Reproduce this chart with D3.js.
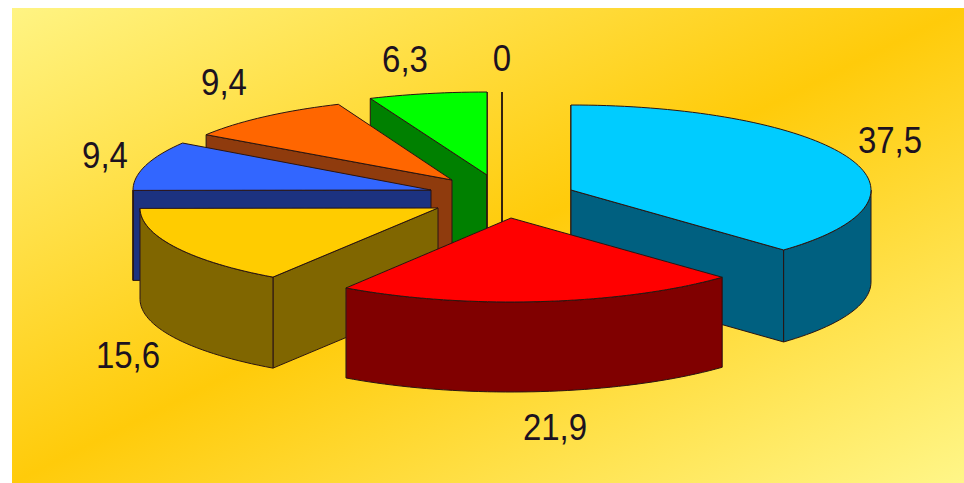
<!DOCTYPE html>
<html>
<head>
<meta charset="utf-8">
<script src="https://cdn.jsdelivr.net/npm/d3@7"></script>
<style>
  html, body { margin: 0; padding: 0; background: #fff; }
  svg { display: block; }
  text { font-family: "Liberation Sans", Arial, sans-serif; fill: #1c1220; }
</style>
</head>
<body>
<div id="chart"></div>
<script>
// values run clockwise from twelve o'clock
var values = [37.5, 21.9, 15.6, 9.4, 9.4, 6.3, 0];
var valueLabels = ['37,5', '21,9', '15,6', '9,4', '9,4', '6,3', '0'];
var topColors = ['#00ccff', '#ff0000', '#ffcc00', '#3366ff', '#ff6600', '#00ff00', '#cc6600'];
var sideColors = ['#006080', '#800000', '#806600', '#1a3380', '#8f3a08', '#008000', '#663300'];

// exploded slices: apex and radii of each one on the page
var sliceCx = [571, 511, 438, 431, 452, 487, 502];
var sliceCy = [190, 218, 208, 190, 180, 175, 175];
var sliceRx = [300, 298, 298, 298, 295, 303, 300];
var sliceRy = [85, 84, 83, 85, 82, 83, 83];
var sliceDepth = [92, 90, 91, 90, 90, 90, 90];
var labelX = [890, 555, 128, 105, 224, 405, 502];
var labelY = [153, 440, 368, 168, 95, 72, 71];

// back slices first so the front ones cover them
var drawOrder = [6, 5, 4, 3, 2, 0, 1];

var width = 964, height = 483;
var frame = {x: 12, y: 8, width: 952, height: 475};

var svg = d3.select('#chart').append('svg')
  .attr('width', width)
  .attr('height', height);

// background, pale in two corners and orange across the other diagonal
var defs = svg.append('defs');
var len = Math.sqrt(frame.width * frame.width + frame.height * frame.height);
var dirX = frame.height / len, dirY = frame.width / len;
var reach = (frame.width / 2) * dirX + (frame.height / 2) * dirY;
var midX = frame.x + frame.width / 2, midY = frame.y + frame.height / 2;
var grad = defs.append('linearGradient')
  .attr('id', 'bg')
  .attr('gradientUnits', 'userSpaceOnUse')
  .attr('x1', midX - dirX * reach).attr('y1', midY - dirY * reach)
  .attr('x2', midX + dirX * reach).attr('y2', midY + dirY * reach);
grad.append('stop').attr('offset', '0').attr('stop-color', '#fff483');
grad.append('stop').attr('offset', '0.5').attr('stop-color', '#ffcb0a');
grad.append('stop').attr('offset', '1').attr('stop-color', '#fff688');

defs.append('filter').attr('id', 'soft')
  .append('feGaussianBlur').attr('stdDeviation', 0.35);

svg.append('rect')
  .attr('x', frame.x).attr('y', frame.y)
  .attr('width', frame.width).attr('height', frame.height)
  .attr('fill', 'url(#bg)');

var arcs = d3.pie().sort(null)(values);
var line = d3.line();
var chart = svg.append('g').attr('filter', 'url(#soft)');

function sampleAngles(a0, a1) {
  var n = Math.max(1, Math.ceil((a1 - a0) / 0.03));
  return d3.range(n + 1).map(function(i) { return a0 + (a1 - a0) * i / n; });
}

drawOrder.forEach(function(i) {
  var arc = arcs[i];
  var x = d3.scaleLinear().domain([-1, 1]).range([sliceCx[i] - sliceRx[i], sliceCx[i] + sliceRx[i]]);
  var y = d3.scaleLinear().domain([-1, 1]).range([sliceCy[i] - sliceRy[i], sliceCy[i] + sliceRy[i]]);
  var depth = sliceDepth[i];
  var apex = [x(0), y(0)];

  function rim(a) { return [x(Math.sin(a)), y(-Math.cos(a))]; }
  function drop(p) { return [p[0], p[1] + depth]; }

  function cutFace(a) {
    var p = rim(a);
    g.append('path')
      .attr('d', line([apex, p, drop(p), drop(apex)]) + 'Z')
      .attr('fill', sideColors[i]);
  }

  var g = chart.append('g')
    .attr('stroke', '#2a1512')
    .attr('stroke-width', 1)
    .attr('stroke-linejoin', 'round');

  // a cut face shows only when it turns towards the viewer
  if (Math.sin(arc.startAngle) < 1e-6) cutFace(arc.startAngle);
  if (Math.sin(arc.endAngle) > -1e-6) cutFace(arc.endAngle);

  // outer wall, only the part of the rim that faces the viewer
  var a0 = Math.max(arc.startAngle, Math.PI / 2);
  var a1 = Math.min(arc.endAngle, Math.PI * 3 / 2);
  if (a1 > a0) {
    var upper = sampleAngles(a0, a1).map(rim);
    var lower = upper.map(drop).reverse();
    g.append('path')
      .attr('d', line(upper.concat(lower)) + 'Z')
      .attr('fill', sideColors[i]);
  }

  // top surface
  if (arc.endAngle > arc.startAngle) {
    var outline = [apex].concat(sampleAngles(arc.startAngle, arc.endAngle).map(rim));
    g.append('path')
      .attr('d', line(outline) + 'Z')
      .attr('fill', topColors[i]);
  }
});

// labels are taller than wide in the picture, hence the vertical stretch
svg.append('g').selectAll('text')
  .data(valueLabels)
  .enter()
  .append('text')
  .attr('text-anchor', 'middle')
  .attr('font-size', 33)
  .attr('transform', function(d, i) {
    return 'translate(' + labelX[i] + ',' + labelY[i] + ') scale(1,1.1)';
  })
  .text(function(d) { return d; });
</script>
</body>
</html>
